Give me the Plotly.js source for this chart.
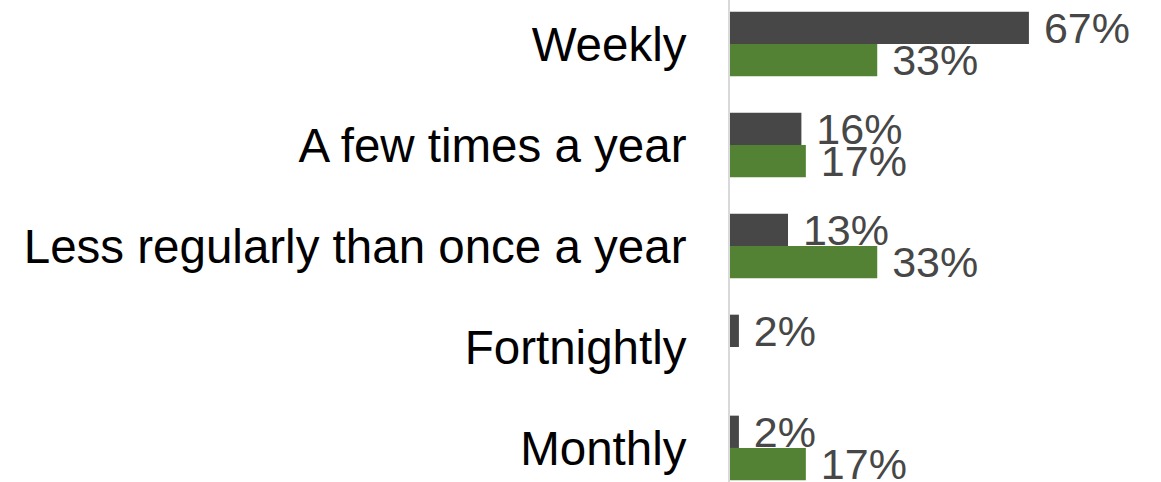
<!DOCTYPE html>
<html>
<head>
<meta charset="utf-8">
<script src="https://cdn.plot.ly/plotly-3.0.1.min.js"></script>
<style>html,body{margin:0;padding:0;background:#fff;}#chart{width:1161px;height:482px;}</style>
</head>
<body>
<div id="chart"></div>
<script>
const categories = ["Weekly", "A few times a year", "Less regularly than once a year", "Fortnightly", "Monthly"];
const seriesDark = [67, 16, 13, 2, 2];
const seriesGreen = [33, 17, 33, null, 17];
const labelsDark = seriesDark.map(v => v == null ? "" : "\u00a0" + v + "%");
const labelsGreen = seriesGreen.map(v => v == null ? "" : "\u00a0" + v + "%");

const FONT = "Liberation Sans, Arial, sans-serif";
const traces = [
  {type: "bar", orientation: "h", name: "Series 1", y: categories, x: seriesDark,
   marker: {color: "#474747"}, text: labelsDark, textposition: "outside",
   constraintext: "none", cliponaxis: false,
   textfont: {family: FONT, size: 43, color: "#474747"}, hoverinfo: "none"},
  {type: "bar", orientation: "h", name: "Series 2", y: categories, x: seriesGreen,
   marker: {color: "#548235"}, text: labelsGreen, textposition: "outside",
   constraintext: "none", cliponaxis: false,
   textfont: {family: FONT, size: 43, color: "#474747"}, hoverinfo: "none"}
];
const layout = {
  width: 1161, height: 482,
  margin: {l: 730, r: 0, t: 0, b: 0},
  barmode: "group", bargap: 0.36, bargroupgap: 0,
  showlegend: false,
  paper_bgcolor: "#ffffff", plot_bgcolor: "#ffffff",
  xaxis: {range: [0, 96.6], showgrid: false, zeroline: false, showticklabels: false, ticks: ""},
  yaxis: {range: [4.337, -0.436], showgrid: false, zeroline: false,
          showline: true, linecolor: "#d9d9d9", linewidth: 2,
          ticks: "", ticklabelstandoff: 32,
          tickfont: {family: FONT, size: 47.5, color: "#000000"}}
};
Plotly.newPlot("chart", traces, layout, {staticPlot: true, displayModeBar: false});
</script>
</body>
</html>
